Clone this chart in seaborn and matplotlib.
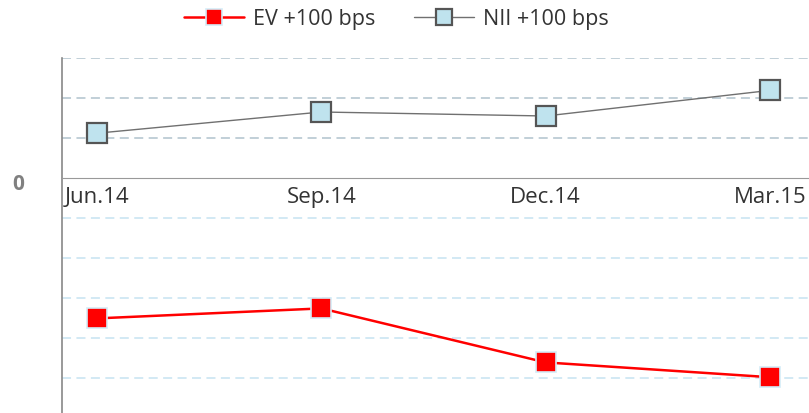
import pandas as pd
import seaborn as sns
import matplotlib.pyplot as plt

# quarters on the x axis
quarters = ["Jun.14", "Sep.14", "Dec.14", "Mar.15"]
# values (gridline step = 1)
ev_100 = [-3.51, -3.26, -4.61, -4.98]
nii_100 = [1.12, 1.65, 1.55, 2.19]

df = pd.DataFrame({
    "quarter": quarters * 2,
    "value": ev_100 + nii_100,
    "series": ["EV +100 bps"] * 4 + ["NII +100 bps"] * 4,
})

sns.set_style("white")
plt.rcParams["font.family"] = ["Open Sans", "DejaVu Sans"]

fig = plt.figure(figsize=(8.09, 4.14), dpi=100)
ax = fig.add_axes([62 / 809, 0, 1 - 62 / 809, 1 - 59 / 414])

sns.lineplot(data=df[df.series == "EV +100 bps"], x="quarter", y="value", ax=ax,
             color="#ff0000", linewidth=1.8, marker="s", markersize=15,
             markerfacecolor="#ff0000", markeredgecolor="#d4ecf7", markeredgewidth=1.2,
             label="EV +100 bps")
sns.lineplot(data=df[df.series == "NII +100 bps"], x="quarter", y="value", ax=ax,
             color="#707070", linewidth=1.0, marker="s", markersize=15,
             markerfacecolor="#bfe3ee", markeredgecolor="#555555", markeredgewidth=1.6,
             label="NII +100 bps")

ax.set_xlim(-0.156, 3.174)
ax.set_ylim(-5.875, 3.0)

# dashed gridlines
for y in [1, 2, 3]:
    ax.axhline(y, color="#bcccd4", linestyle=(0, (5, 3)), linewidth=1.3, zorder=0)
for y in [-1, -2, -3, -4, -5]:
    ax.axhline(y, color="#cfe7f3", linestyle=(0, (5, 3)), linewidth=1.3, zorder=0)

for s in ["top", "right"]:
    ax.spines[s].set_visible(False)
ax.spines["bottom"].set_position(("data", 0))
ax.spines["bottom"].set_color("#999999")
ax.spines["left"].set_color("#888888")
ax.spines["left"].set_linewidth(1.2)

ax.set_yticks([-0.08])
ax.set_yticklabels(["0"], fontsize=15, fontweight="bold", color="#808080")
ax.tick_params(axis="y", length=0, pad=27)
ax.tick_params(axis="x", length=0, pad=6, labelsize=16, labelcolor="#333333")
ax.set_xlabel("")
ax.set_ylabel("")

ax.legend(loc="center", bbox_to_anchor=(396 / 809, 1 - 20 / 414),
          bbox_transform=fig.transFigure, ncol=2, frameon=False,
          fontsize=15.5, handlelength=2.8, columnspacing=1.8, handletextpad=0.4,
          markerscale=0.75, labelcolor="#333333")

fig.savefig("out.png", dpi=100)
